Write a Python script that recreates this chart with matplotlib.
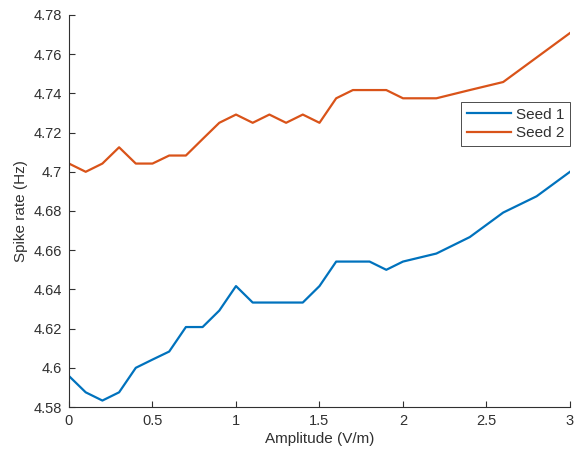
import matplotlib
matplotlib.use("Agg")
import matplotlib.pyplot as plt
from matplotlib.ticker import FuncFormatter

amplitude = [0.0, 0.1, 0.2, 0.3, 0.4, 0.5, 0.6, 0.7, 0.8, 0.9, 1.0,
             1.1, 1.2, 1.3, 1.4, 1.5, 1.6, 1.7, 1.8, 1.9, 2.0,
             2.2, 2.4, 2.6, 2.8, 3.0]
seed1 = [4.5958, 4.5875, 4.5833, 4.5875, 4.6000, 4.6042, 4.6083, 4.6208, 4.6208, 4.6292, 4.6417,
         4.6333, 4.6333, 4.6333, 4.6333, 4.6417, 4.6542, 4.6542, 4.6542, 4.6500, 4.6542,
         4.6583, 4.6667, 4.6792, 4.6875, 4.7000]
seed2 = [4.7042, 4.7000, 4.7042, 4.7125, 4.7042, 4.7042, 4.7083, 4.7083, 4.7167, 4.7250, 4.7292,
         4.7250, 4.7292, 4.7250, 4.7292, 4.7250, 4.7375, 4.7417, 4.7417, 4.7417, 4.7375,
         4.7375, 4.7417, 4.7458, 4.7583, 4.7708]
series_names = ["Seed 1", "Seed 2"]
xticks = [0, 0.5, 1, 1.5, 2, 2.5, 3]
yticks = [4.58, 4.60, 4.62, 4.64, 4.66, 4.68, 4.70, 4.72, 4.74, 4.76, 4.78]

plt.rcParams['font.family'] = ['Liberation Sans', 'DejaVu Sans']
fig = plt.figure(figsize=(5.74, 4.61), dpi=100)
ax = fig.add_axes([0.1202, 0.1171, 0.8728, 0.8504])

ax.plot(amplitude, seed1, color='#0072BD', lw=1.6, label=series_names[0])
ax.plot(amplitude, seed2, color='#D95319', lw=1.6, label=series_names[1])

ax.set_xlim(0, 3)
ax.set_ylim(4.58, 4.78)
ax.set_xticks(xticks)
ax.set_yticks(yticks)
ax.xaxis.set_major_formatter(FuncFormatter(lambda v, p: f"{v:g}"))
ax.yaxis.set_major_formatter(FuncFormatter(lambda v, p: f"{round(v, 2):g}"))

gray = '#303030'
for s in ['top', 'right']:
    ax.spines[s].set_visible(False)
for s in ['left', 'bottom']:
    ax.spines[s].set_color(gray)
    ax.spines[s].set_linewidth(0.8)
ax.tick_params(direction='in', length=4, width=0.8, colors=gray, labelsize=10.5, pad=5)
ax.set_xlabel("Amplitude (V/m)", fontsize=11, color=gray, labelpad=3)
ax.set_ylabel("Spike rate (Hz)", fontsize=11, color=gray, labelpad=4)

leg = ax.legend(loc='upper right', bbox_to_anchor=(1.0, 0.778), fontsize=11,
                fancybox=False, framealpha=1, edgecolor='#303030', handlelength=2.9,
                borderpad=0.38, labelspacing=0.3, handletextpad=0.3, borderaxespad=0)
leg.get_frame().set_linewidth(0.6)
for t in leg.get_texts():
    t.set_color(gray)

fig.savefig("out.png", dpi=100)
